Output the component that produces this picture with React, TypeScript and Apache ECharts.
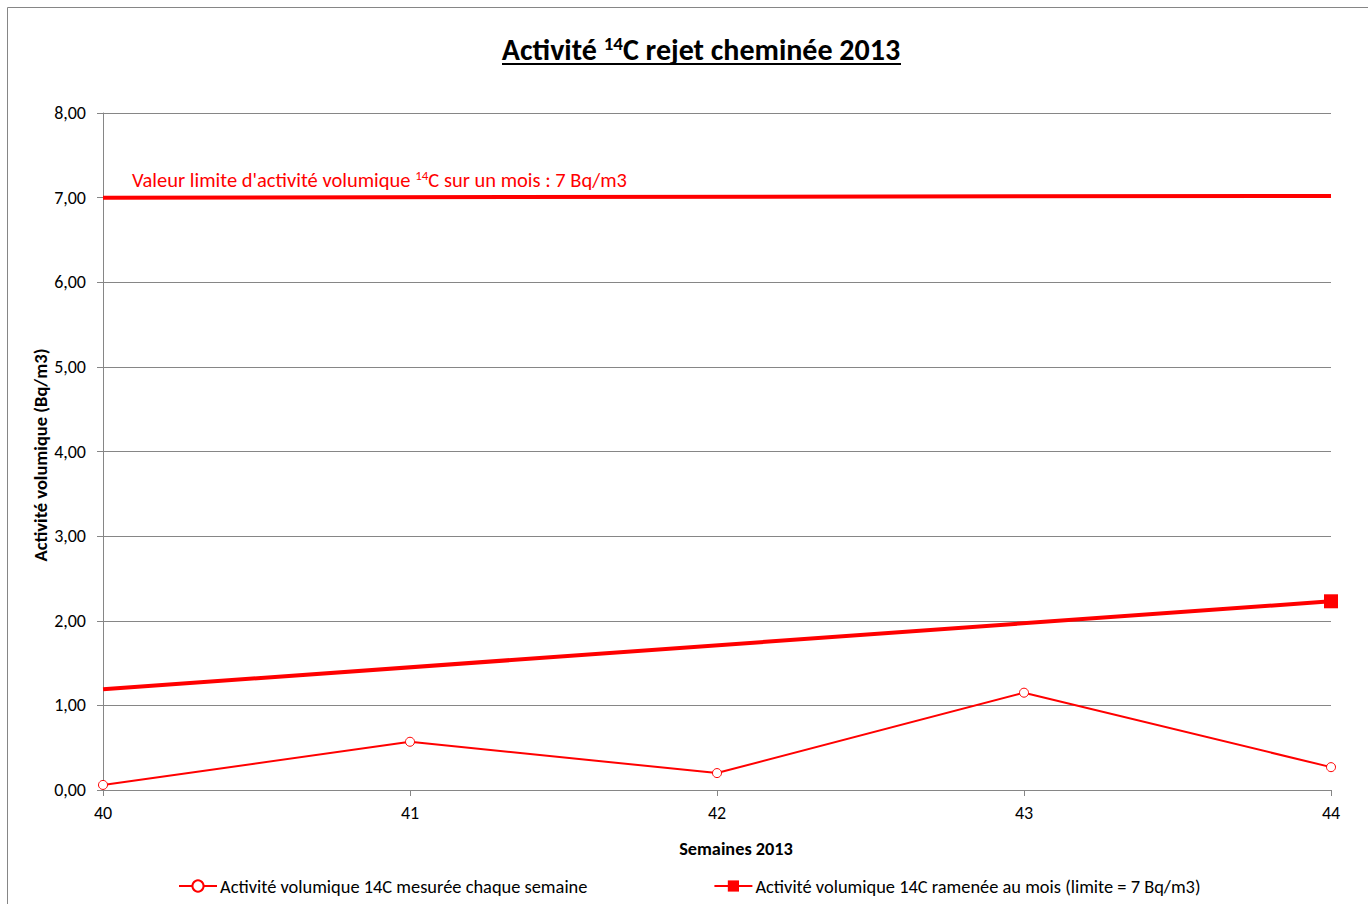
import React, { useEffect, useRef } from "react";
import * as echarts from "echarts";

const weeks = [40, 41, 42, 43, 44];
const weeklyValues = [0.06, 0.57, 0.2, 1.15, 0.27];
const monthlyStart = [40, 1.19];
const monthlyEnd = [44, 2.23];
const limitStart = [40, 7.0];
const limitEnd = [44, 7.02];

const FONT = "Carlito, Lato, 'Open Sans', sans-serif";
const RED = "#ff0000";

export default function App() {
  const ref = useRef<HTMLDivElement>(null);
  useEffect(() => {
    if (!ref.current) return;
    const chart = echarts.init(ref.current, undefined, { renderer: "svg" });
    chart.setOption({
      animation: false,
      backgroundColor: "#ffffff",
      textStyle: { fontFamily: FONT },
      grid: { left: 103, right: 37, top: 113, bottom: 114 },
      xAxis: {
        type: "value",
        min: 40,
        max: 44,
        interval: 1,
        axisLine: { lineStyle: { color: "#868686", width: 1 } },
        axisTick: { show: true, length: 6, lineStyle: { color: "#868686" } },
        axisLabel: { color: "#000", fontSize: 18, margin: 14, fontFamily: FONT },
        splitLine: { show: false },
      },
      yAxis: {
        type: "value",
        min: 0,
        max: 8,
        interval: 1,
        axisLine: { show: true, lineStyle: { color: "#868686", width: 1 } },
        axisTick: { show: true, length: 6, lineStyle: { color: "#868686" } },
        axisLabel: {
          color: "#000",
          fontSize: 18,
          margin: 17,
          fontFamily: FONT,
          formatter: (v: number) => v.toFixed(2).replace(".", ","),
        },
        splitLine: { show: true, lineStyle: { color: "#868686", width: 1 } },
      },
      legend: {
        left: 173,
        top: 872,
        itemWidth: 38,
        itemHeight: 14,
        itemGap: 126,
        textStyle: { color: "#000", fontSize: 18.4, fontFamily: FONT, padding: [0, 0, 0, -2] },
        data: [
          { name: "Activité volumique 14C mesurée chaque semaine" },
          { name: "Activité volumique 14C ramenée au mois (limite = 7 Bq/m3)" },
        ],
      },
      series: [
        {
          name: "Limite",
          type: "line",
          data: [limitStart, limitEnd],
          symbol: "none",
          lineStyle: { color: RED, width: 4 },
          z: 3,
        },
        {
          name: "Activité volumique 14C ramenée au mois (limite = 7 Bq/m3)",
          type: "line",
          data: [
            { value: monthlyStart, symbol: "none" },
            { value: monthlyEnd, symbol: "rect", symbolSize: 14 },
          ],
          symbol: "rect",
          symbolSize: 14,
          itemStyle: { color: RED },
          lineStyle: { color: RED, width: 4 },
          z: 4,
        },
        {
          name: "Activité volumique 14C mesurée chaque semaine",
          type: "line",
          data: weeks.map((w, i) => [w, weeklyValues[i]]),
          symbol: "circle",
          symbolSize: 9,
          showAllSymbol: true,
          itemStyle: { color: "#ffffff", borderColor: RED, borderWidth: 1 },
          lineStyle: { color: RED, width: 2 },
          z: 5,
        },
      ],
      graphic: [
        {
          type: "rect",
          shape: { x: 7.5, y: 7.5, width: 1400, height: 1000 },
          style: { fill: "none", stroke: "#868686", lineWidth: 1 },
          silent: true,
        },
        {
          type: "text",
          x: 701,
          y: 49,
          style: {
            text: "{a|Activité }{s|14}{a|C rejet cheminée 2013}",
            align: "center",
            verticalAlign: "middle",
            rich: {
              a: { fontSize: 30, fontWeight: "bold", fill: "#000", fontFamily: FONT },
              s: { fontSize: 19, fontWeight: "bold", fill: "#000", fontFamily: FONT, padding: [0, 0, 12, 0] },
            },
          },
        },
        {
          type: "line",
          shape: { x1: 502, y1: 64, x2: 901, y2: 64 },
          style: { stroke: "#000", lineWidth: 2 },
        },
        {
          type: "text",
          x: 132,
          y: 180,
          style: {
            text: "{a|Valeur limite d'activité volumique }{s|14}{a|C sur un mois : 7 Bq/m3}",
            verticalAlign: "middle",
            rich: {
              a: { fontSize: 20.5, fill: RED, fontFamily: FONT },
              s: { fontSize: 13, fill: RED, fontFamily: FONT, padding: [0, 0, 9, 0] },
            },
          },
        },
        {
          type: "text",
          x: 40,
          y: 455,
          rotation: Math.PI / 2,
          style: {
            text: "Activité volumique (Bq/m3)",
            align: "center",
            verticalAlign: "middle",
            fontSize: 18.5,
            fontWeight: "bold",
            fill: "#000",
            fontFamily: FONT,
          },
        },
        {
          type: "text",
          x: 736,
          y: 849,
          style: {
            text: "Semaines 2013",
            align: "center",
            verticalAlign: "middle",
            fontSize: 18.3,
            fontWeight: "bold",
            fill: "#000",
            fontFamily: FONT,
          },
        },
      ],
    });
    return () => chart.dispose();
  }, []);
  return (
    <div
      ref={ref}
      style={{ position: "absolute", left: 0, top: 0, width: 1368, height: 904 }}
    />
  );
}
